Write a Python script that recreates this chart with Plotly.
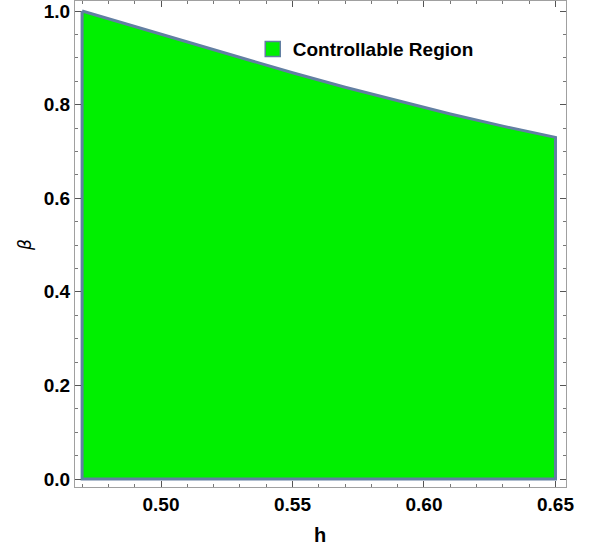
import plotly.graph_objects as go

# Upper boundary of the controllable region
h_vals = [0.47, 0.49, 0.50, 0.51, 0.53, 0.55, 0.57, 0.59, 0.60, 0.61, 0.63, 0.65]
beta_upper = [1.0, 0.967, 0.951, 0.935, 0.901, 0.868, 0.837, 0.808, 0.794, 0.780, 0.754, 0.730]
beta_lower = 0.0

x_ticks = [0.50, 0.55, 0.60, 0.65]
x_ticklabels = ["0.50", "0.55", "0.60", "0.65"]
y_ticks = [0.0, 0.2, 0.4, 0.6, 0.8, 1.0]
y_ticklabels = ["0.0", "0.2", "0.4", "0.6", "0.8", "1.0"]

# closed polygon: along the upper curve, then back along beta = 0
poly_x = h_vals + [h_vals[-1], h_vals[0], h_vals[0]]
poly_y = beta_upper + [beta_lower, beta_lower, beta_upper[0]]

GREEN = "#00F000"
EDGE = "#627FA2"
FRAME = "#A0A0A0"
FONT = "Liberation Sans, Arial, sans-serif"

fig = go.Figure()
fig.add_trace(go.Scatter(
    x=poly_x, y=poly_y, mode="lines", fill="toself",
    fillcolor=GREEN, line=dict(color=EDGE, width=3, shape="linear"),
    name="Controllable Region", showlegend=False,
))
# legend entry: a green square with bluish border
fig.add_trace(go.Scatter(
    x=[None], y=[None], mode="markers",
    marker=dict(symbol="square", size=15, color=GREEN, line=dict(color=EDGE, width=1.5)),
    name="Controllable Region", showlegend=True,
))

axis_common = dict(
    showgrid=False, zeroline=False, showline=True, linecolor=FRAME, linewidth=1,
    mirror="ticks", ticks="inside", ticklen=6, tickcolor="#555", tickwidth=1,
    tickfont=dict(family=FONT, size=19, color="black", weight="bold"),
)

fig.update_xaxes(
    range=[0.4673, 0.6540], tickvals=x_ticks, ticktext=x_ticklabels,
    minor=dict(dtick=0.01, tick0=0.0, ticks="inside", ticklen=3, tickcolor="#777"),
    **axis_common,
)
fig.update_yaxes(
    range=[-0.0171, 1.0214], tickvals=y_ticks, ticktext=y_ticklabels,
    minor=dict(dtick=0.05, tick0=0.0, ticks="inside", ticklen=3, tickcolor="#777"),
    **axis_common,
)

fig.update_layout(
    width=595, height=556,
    margin=dict(l=75, r=29, t=1, b=69),
    plot_bgcolor="white", paper_bgcolor="white",
    font=dict(family=FONT, color="black"),
    legend=dict(
        x=0.362, y=0.901, xanchor="left", yanchor="middle",
        bgcolor="rgba(0,0,0,0)", borderwidth=0,
        font=dict(family=FONT, size=19, color="black", weight="bold"),
    ),
    annotations=[
        dict(text="<b>h</b>", xref="paper", yref="paper",
             x=(320 - 75) / 491, y=(487 - 535) / 486, showarrow=False,
             xanchor="center", yanchor="middle",
             font=dict(family=FONT, size=20, color="black")),
        dict(text="<i>β</i>", xref="paper", yref="paper",
             x=(25 - 75) / 491, y=(487 - 245) / 486, showarrow=False,
             xanchor="center", yanchor="middle", textangle=-90,
             font=dict(family="DejaVu Sans, sans-serif", size=17, color="black")),
    ],
)

fig.write_html("out.html")
